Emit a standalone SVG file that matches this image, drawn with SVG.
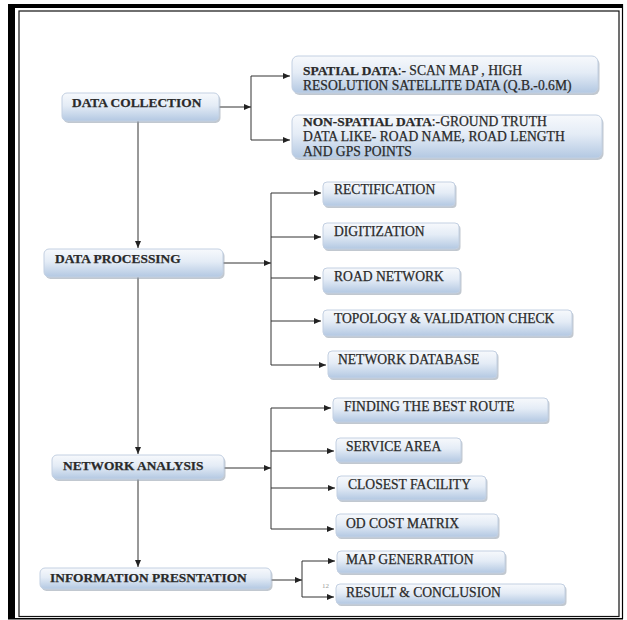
<svg xmlns="http://www.w3.org/2000/svg" width="627" height="620" viewBox="0 0 627 620">
<defs>
<linearGradient id="g" x1="0" y1="0" x2="0" y2="1">
<stop offset="0" stop-color="#f7f9fc"/>
<stop offset="0.45" stop-color="#e4ecf6"/>
<stop offset="1" stop-color="#b3c8e2"/>
</linearGradient>
<marker id="ah" markerUnits="userSpaceOnUse" markerWidth="7" markerHeight="6" refX="7" refY="3" orient="auto">
<path d="M0,0 L7,3 L0,6 z" fill="#222"/>
</marker>
</defs>
<style>
.sh{fill:#8e9aaa;opacity:0.55}
.bx{fill:url(#g);stroke:#c3d0e2;stroke-width:1}
.t{font-family:"Liberation Serif","Times New Roman",serif;font-size:13.6px;fill:#2a2a2a;stroke:#2a2a2a;stroke-width:0.25}
.b{font-weight:bold;font-size:13.4px}
.c{fill:none;stroke:#333;stroke-width:1}
.a{marker-end:url(#ah)}
</style>
<rect width="627" height="620" fill="#fff"/>
<g id="frame">
<rect x="8" y="4" width="615" height="4" fill="#000"/>
<rect x="8" y="4" width="7" height="615" fill="#000"/>
<rect x="19" y="11" width="600" height="605.5" fill="none" stroke="#111" stroke-width="1.2"/>
<line x1="622.5" y1="4" x2="622.5" y2="619" stroke="#000" stroke-width="1.2"/>
<line x1="8" y1="618.8" x2="623" y2="618.8" stroke="#000" stroke-width="1.5"/>
</g>
<g id="connectors">
<path class="c a" d="M219,107 H251"/>
<path class="c" d="M251,76 V140"/>
<path class="c a" d="M251,76 H290"/>
<path class="c a" d="M251,140 H290"/>
<path class="c a" d="M138,121 V248"/>
<path class="c a" d="M223,263 H271"/>
<path class="c" d="M271,193 V365"/>
<path class="c a" d="M271,193 H321"/>
<path class="c a" d="M271,237 H321"/>
<path class="c a" d="M271,278 H321"/>
<path class="c a" d="M271,321 H321"/>
<path class="c a" d="M271,365 H326"/>
<path class="c a" d="M138,277 V454"/>
<path class="c a" d="M224,468 H271"/>
<path class="c" d="M271,408 V529"/>
<path class="c a" d="M271,408 H331"/>
<path class="c a" d="M271,451 H334"/>
<path class="c a" d="M271,488 H335"/>
<path class="c a" d="M271,529 H334"/>
<path class="c a" d="M138,479 V567"/>
<path class="c a" d="M271,580 H302"/>
<path class="c" d="M302,561 V597"/>
<path class="c a" d="M302,561 H335"/>
<path class="c a" d="M302,597 H334"/>
</g>
<g id="data-collection">
<rect class="sh" x="63.5" y="95" width="157" height="28" rx="5"/>
<rect class="bx" x="62" y="93" width="157" height="28" rx="5"/>
<text class="t b" x="72" y="107">DATA COLLECTION</text>
</g>
<g id="spatial-data">
<rect class="sh" x="293.5" y="58" width="306" height="37" rx="6"/>
<rect class="bx" x="292" y="56" width="306" height="37" rx="6"/>
<text class="t" x="303" y="74.5"><tspan class="b">SPATIAL DATA</tspan>:- SCAN MAP , HIGH</text>
<text class="t" x="303" y="89.5">RESOLUTION SATELLITE DATA (Q.B.-0.6M)</text>
</g>
<g id="non-spatial-data">
<rect class="sh" x="293.5" y="117" width="310" height="43" rx="6"/>
<rect class="bx" x="292" y="115" width="310" height="43" rx="6"/>
<text class="t" x="303" y="126"><tspan class="b">NON-SPATIAL DATA</tspan>:-GROUND TRUTH</text>
<text class="t" x="303" y="141">DATA LIKE- ROAD NAME, ROAD LENGTH</text>
<text class="t" x="303" y="156">AND GPS POINTS</text>
</g>
<g id="data-processing">
<rect class="sh" x="45.5" y="251" width="179" height="28" rx="5"/>
<rect class="bx" x="44" y="249" width="179" height="28" rx="5"/>
<text class="t b" x="55" y="263">DATA PROCESSING</text>
</g>
<g id="rectification">
<rect class="sh" x="324.5" y="184" width="132" height="24" rx="4"/>
<rect class="bx" x="323" y="182" width="132" height="24" rx="4"/>
<text class="t" x="334" y="194">RECTIFICATION</text>
</g>
<g id="digitization">
<rect class="sh" x="324.5" y="225" width="136" height="26" rx="4"/>
<rect class="bx" x="323" y="223" width="136" height="26" rx="4"/>
<text class="t" x="334" y="236">DIGITIZATION</text>
</g>
<g id="road-network">
<rect class="sh" x="324.5" y="270" width="137" height="25" rx="4"/>
<rect class="bx" x="323" y="268" width="137" height="25" rx="4"/>
<text class="t" x="334" y="281">ROAD NETWORK</text>
</g>
<g id="topology">
<rect class="sh" x="324.5" y="312" width="249" height="26" rx="4"/>
<rect class="bx" x="323" y="310" width="249" height="26" rx="4"/>
<text class="t" x="334" y="323">TOPOLOGY &amp; VALIDATION CHECK</text>
</g>
<g id="network-database">
<rect class="sh" x="329.5" y="353" width="169" height="27" rx="4"/>
<rect class="bx" x="328" y="351" width="169" height="27" rx="4"/>
<text class="t" x="338" y="364">NETWORK DATABASE</text>
</g>
<g id="network-analysis">
<rect class="sh" x="53.5" y="457" width="172" height="24" rx="5"/>
<rect class="bx" x="52" y="455" width="172" height="24" rx="5"/>
<text class="t b" x="63" y="470">NETWORK ANALYSIS</text>
</g>
<g id="finding-best-route">
<rect class="sh" x="334.5" y="400" width="215" height="24" rx="4"/>
<rect class="bx" x="333" y="398" width="215" height="24" rx="4"/>
<text class="t" x="344" y="411">FINDING THE BEST ROUTE</text>
</g>
<g id="service-area">
<rect class="sh" x="337.5" y="440" width="125" height="24" rx="4"/>
<rect class="bx" x="336" y="438" width="125" height="24" rx="4"/>
<text class="t" x="346" y="451">SERVICE AREA</text>
</g>
<g id="closest-facility">
<rect class="sh" x="338.5" y="478" width="149" height="24" rx="4"/>
<rect class="bx" x="337" y="476" width="149" height="24" rx="4"/>
<text class="t" x="348" y="489">CLOSEST FACILITY</text>
</g>
<g id="od-cost-matrix">
<rect class="sh" x="337.5" y="516" width="162" height="23" rx="4"/>
<rect class="bx" x="336" y="514" width="162" height="23" rx="4"/>
<text class="t" x="346" y="528">OD COST MATRIX</text>
</g>
<g id="information-presentation">
<rect class="sh" x="41.5" y="570" width="231" height="21" rx="5"/>
<rect class="bx" x="40" y="568" width="231" height="21" rx="5"/>
<text class="t b" x="50" y="582">INFORMATION PRESNTATION</text>
</g>
<g id="map-generation">
<rect class="sh" x="338.5" y="553" width="168" height="22" rx="4"/>
<rect class="bx" x="337" y="551" width="168" height="22" rx="4"/>
<text class="t" x="346" y="564">MAP GENERRATION</text>
</g>
<g id="result-conclusion">
<rect class="sh" x="337.5" y="586" width="229" height="20" rx="4"/>
<rect class="bx" x="336" y="584" width="229" height="20" rx="4"/>
<text class="t" x="346" y="597">RESULT &amp; CONCLUSION</text>
</g>
<text x="322" y="588" font-family="Liberation Serif, serif" font-size="7" fill="#999">12</text>
</svg>
